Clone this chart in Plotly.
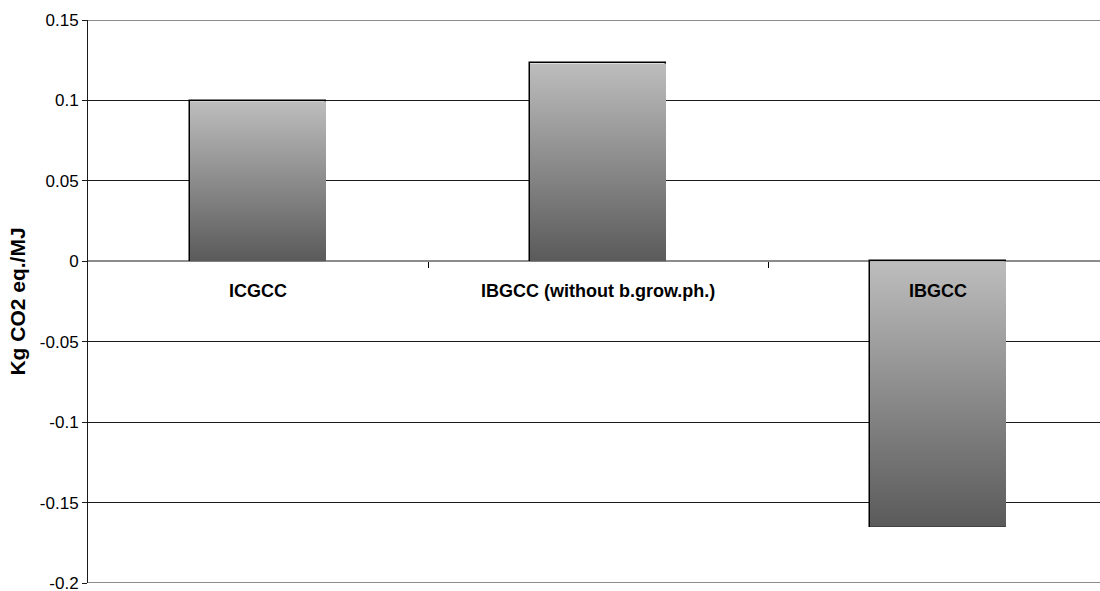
import plotly.graph_objects as go

# Life-cycle greenhouse-gas emissions per MJ of electricity
categories = ["ICGCC", "IBGCC (without b.grow.ph.)", "IBGCC"]
emissions = [0.0995, 0.123, -0.165]
y_ticks = [0.15, 0.1, 0.05, 0, -0.05, -0.1, -0.15, -0.2]
y_tick_text = ["0.15", "0.1", "0.05", "0", "-0.05", "-0.1", "-0.15", "-0.2"]

Y_MIN, Y_MAX = -0.2, 0.15
BAR_W = 0.4
FONT = "Liberation Sans, Arial, sans-serif"

xs = list(range(len(categories)))
fig = go.Figure()

# Gradient bodies of the bars (light at top, dark at bottom)
for x, v in zip(xs, emissions):
    fig.add_trace(go.Scatter(
        x=[x - BAR_W / 2, x + BAR_W / 2, x + BAR_W / 2, x - BAR_W / 2, x - BAR_W / 2],
        y=[0, 0, v, v, 0],
        mode="lines", line=dict(width=0),
        fill="toself",
        fillgradient=dict(type="vertical",
                          colorscale=[[0, "#5a5a5a"], [1, "#bdbdbd"]]),
        hoverinfo="skip", showlegend=False,
    ))

# Bar outlines
fig.add_trace(go.Bar(
    x=xs, y=emissions, width=BAR_W,
    marker=dict(color="rgba(0,0,0,0)", line=dict(color="#000000", width=1.5)),
    showlegend=False,
))

# Category labels just under the zero line
for x, name in zip(xs, categories):
    fig.add_annotation(x=x, y=0, xref="x", yref="y", text=f"<b>{name}</b>",
                       showarrow=False, yanchor="middle", yshift=-30,
                       font=dict(family=FONT, size=18, color="#000000"))

# Gray frame lines at the top and bottom of the plot area
for yv in (Y_MAX, Y_MIN):
    fig.add_shape(type="line", xref="paper", yref="y", x0=0, x1=1, y0=yv, y1=yv,
                  line=dict(color="#8c8c8c", width=2), layer="above")

zero_pos = (0 - Y_MIN) / (Y_MAX - Y_MIN)
plot_px = 1100 - 88
x_hi = -0.5 + len(categories) * plot_px / 1020

fig.update_layout(
    width=1100, height=591,
    margin=dict(l=88, r=0, t=20, b=8, autoexpand=False),
    plot_bgcolor="#ffffff", paper_bgcolor="#ffffff",
    font=dict(family=FONT, size=17, color="#000000"),
    bargap=0,
    xaxis=dict(
        range=[-0.5, x_hi], showgrid=False, zeroline=False, showline=False,
        anchor="free", position=zero_pos, automargin=False,
        tickmode="array", tickvals=[0.5, 1.5], ticks="outside", ticklen=6,
        tickcolor="#000000", tickwidth=1, showticklabels=False,
    ),
    yaxis=dict(
        range=[Y_MIN, Y_MAX], tickmode="array", tickvals=y_ticks, ticktext=y_tick_text,
        automargin=False,
        showgrid=True, gridcolor="#1a1a1a", gridwidth=1,
        zeroline=True, zerolinecolor="#8c8c8c", zerolinewidth=2,
        showline=True, linecolor="#1a1a1a", linewidth=1,
        ticks="outside", ticklen=5, tickcolor="#1a1a1a",
        tickfont=dict(family=FONT, size=17),
        ticklabeloverflow="allow",
        title=dict(text="<b>Kg CO2 eq./MJ</b>", font=dict(family=FONT, size=21), standoff=8),
    ),
)

fig.write_html("out.html")
